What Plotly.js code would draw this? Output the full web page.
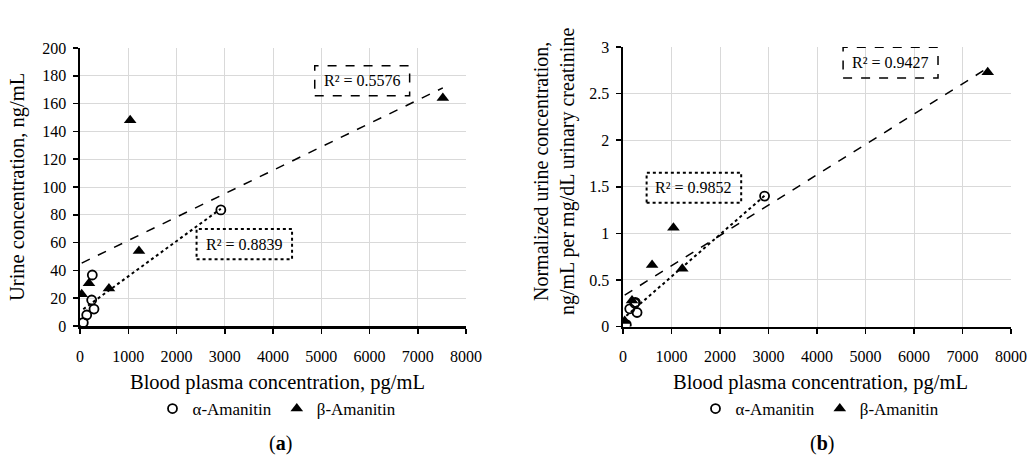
<!DOCTYPE html>
<html><head><meta charset="utf-8">
<script src="https://cdn.plot.ly/plotly-3.0.1.min.js"></script>
<style>html,body{margin:0;padding:0;background:#fff}</style>
</head><body>
<div id="chart" style="width:1028px;height:475px"></div>
<script>
// ---- data ----
const plasmaAlpha = [68, 139, 242, 255, 290, 2919];
const urineAlpha = [2.4, 7.9, 18.7, 36.7, 12.2, 83.5];
const normAlpha = [0.02, 0.19, 0.25, 0.26, 0.15, 1.40];
const plasmaBeta = [35, 186, 600, 1222, 1040, 7520];
const urineBeta = [22.8, 30.7, 27.0, 54.0, 148.0, 164.0];
const normBeta = [0.06, 0.28, 0.66, 0.62, 1.06, 2.73];
const r2Labels = {aBeta: 'R² = 0.5576', aAlpha: 'R² = 0.8839', bBeta: 'R² = 0.9427', bAlpha: 'R² = 0.9852'};
const seriesNames = ['α-Amanitin', 'β-Amanitin'];
const xTitle = 'Blood plasma concentration, pg/mL';
const yTitleA = 'Urine concentration, ng/mL';
const yTitleB = 'Normalized urine concentration,<br>ng/mL per mg/dL urinary creatinine';

function fit(xs, ys) {
  const n = xs.length;
  const mx = xs.reduce((a, b) => a + b, 0) / n;
  const my = ys.reduce((a, b) => a + b, 0) / n;
  let sxy = 0, sxx = 0;
  for (let i = 0; i < n; i++) { sxy += (xs[i] - mx) * (ys[i] - my); sxx += (xs[i] - mx) ** 2; }
  const m = sxy / sxx, c = my - m * mx;
  const x0 = Math.min(...xs), x1 = Math.max(...xs);
  return {x: [x0, x1], y: [m * x0 + c, m * x1 + c]};
}

const FONT = 'Liberation Serif, Times New Roman, serif';
const circle = {symbol: 'circle-open', size: 9, color: '#000', line: {width: 1.8, color: '#000'}};
const tri = {symbol: 'triangle-up', size: 11, color: '#000'};

const fA1 = fit(plasmaAlpha, urineAlpha), fB1 = fit(plasmaBeta, urineBeta);
const fA2 = fit(plasmaAlpha, normAlpha), fB2 = fit(plasmaBeta, normBeta);

const traces = [
  {x: fB1.x, y: fB1.y, mode: 'lines', line: {color: '#000', width: 1.5, dash: 'dash'}, showlegend: false, xaxis: 'x', yaxis: 'y'},
  {x: fA1.x, y: fA1.y, mode: 'lines', line: {color: '#000', width: 2, dash: 'dot'}, showlegend: false, xaxis: 'x', yaxis: 'y'},
  {x: plasmaAlpha, y: urineAlpha, mode: 'markers', name: seriesNames[0], marker: circle, xaxis: 'x', yaxis: 'y', legend: 'legend'},
  {x: plasmaBeta, y: urineBeta, mode: 'markers', name: seriesNames[1], marker: tri, xaxis: 'x', yaxis: 'y', legend: 'legend'},
  {x: fB2.x, y: fB2.y, mode: 'lines', line: {color: '#000', width: 1.5, dash: 'dash'}, showlegend: false, xaxis: 'x2', yaxis: 'y2'},
  {x: fA2.x, y: fA2.y, mode: 'lines', line: {color: '#000', width: 2, dash: 'dot'}, showlegend: false, xaxis: 'x2', yaxis: 'y2'},
  {x: plasmaAlpha, y: normAlpha, mode: 'markers', name: seriesNames[0], marker: circle, xaxis: 'x2', yaxis: 'y2', legend: 'legend2'},
  {x: plasmaBeta, y: normBeta, mode: 'markers', name: seriesNames[1], marker: tri, xaxis: 'x2', yaxis: 'y2', legend: 'legend2'}
];

const W = 1028, H = 475;
const px = v => v / W, py = v => (H - v) / H;

const axBase = {
  showgrid: true, gridcolor: '#d9d9d9', gridwidth: 1, zeroline: false,
  showline: true, linecolor: '#000', linewidth: 2.5,
  ticks: 'outside', ticklen: 5, tickwidth: 1.5, tickcolor: '#000',
  tickfont: {family: FONT, size: 16, color: '#000'}, fixedrange: true,
  ticklabeloverflow: 'allow'
};

const legendBase = {orientation: 'h', xanchor: 'center', yanchor: 'middle', font: {family: FONT, size: 17, color: '#000'}, itemwidth: 30, tracegroupgap: 0, bgcolor: 'rgba(0,0,0,0)'};

function txt(x, y, text, size, extra) {
  return Object.assign({xref: 'paper', yref: 'paper', x: px(x), y: py(y), xanchor: 'center', yanchor: 'middle', text: text, showarrow: false, font: {family: FONT, size: size, color: '#000'}}, extra || {});
}
function r2(xr, yr, x, y, text) {
  return {xref: xr, yref: yr, x: x, y: y, xanchor: 'center', yanchor: 'middle', text: text, showarrow: false, font: {family: FONT, size: 16, color: '#000'}};
}

const layout = {
  width: W, height: H, margin: {l: 0, r: 0, t: 0, b: 0},
  paper_bgcolor: '#fff', plot_bgcolor: '#fff',
  font: {family: FONT, color: '#000'},
  xaxis: Object.assign({}, axBase, {domain: [px(80), px(466)], range: [0, 8000], dtick: 1000, anchor: 'y', ticklabelstandoff: 9}),
  yaxis: Object.assign({}, axBase, {domain: [py(326), py(48)], range: [0, 200], dtick: 20, anchor: 'x', ticklabelstandoff: 3}),
  xaxis2: Object.assign({}, axBase, {domain: [px(623), px(1011)], range: [0, 8000], dtick: 1000, anchor: 'y2', ticklabelstandoff: 9}),
  yaxis2: Object.assign({}, axBase, {domain: [py(326.5), py(47)], range: [0, 3], dtick: 0.5, anchor: 'x2', ticklabelstandoff: 3}),
  legend: Object.assign({}, legendBase, {x: px(277), y: py(409)}),
  legend2: Object.assign({}, legendBase, {x: px(820), y: py(409)}),
  shapes: [
    {type: 'rect', xref: 'x', yref: 'y', x0: 4865, x1: 6832, y0: 165.7, y1: 187.3, line: {color: '#000', width: 1.5, dash: 'dash'}},
    {type: 'rect', xref: 'x', yref: 'y', x0: 2416, x1: 4395, y0: 48, y1: 69.8, line: {color: '#000', width: 2, dash: 'dot'}},
    {type: 'rect', xref: 'x2', yref: 'y2', x0: 4538, x1: 6495, y0: 2.667, y1: 2.998, line: {color: '#000', width: 1.5, dash: 'dash'}},
    {type: 'rect', xref: 'x2', yref: 'y2', x0: 487, x1: 2437, y0: 1.328, y1: 1.651, line: {color: '#000', width: 2, dash: 'dot'}}
  ],
  annotations: [
    r2('x', 'y', 5848, 176.5, r2Labels.aBeta),
    r2('x', 'y', 3405, 58.9, r2Labels.aAlpha),
    r2('x2', 'y2', 5516, 2.832, r2Labels.bBeta),
    r2('x2', 'y2', 1462, 1.49, r2Labels.bAlpha),
    txt(277, 382, xTitle, 20.5),
    txt(820, 382, xTitle, 20.5),
    txt(18, 187, yTitleA, 20.5, {textangle: -90}),
    txt(554, 172, yTitleB, 20, {textangle: -90}),
    txt(280, 443, '(<b>a</b>)', 20),
    txt(822, 443, '(<b>b</b>)', 20)
  ]
};

Plotly.newPlot('chart', traces, layout, {displayModeBar: false, staticPlot: true});
</script>
</body></html>
